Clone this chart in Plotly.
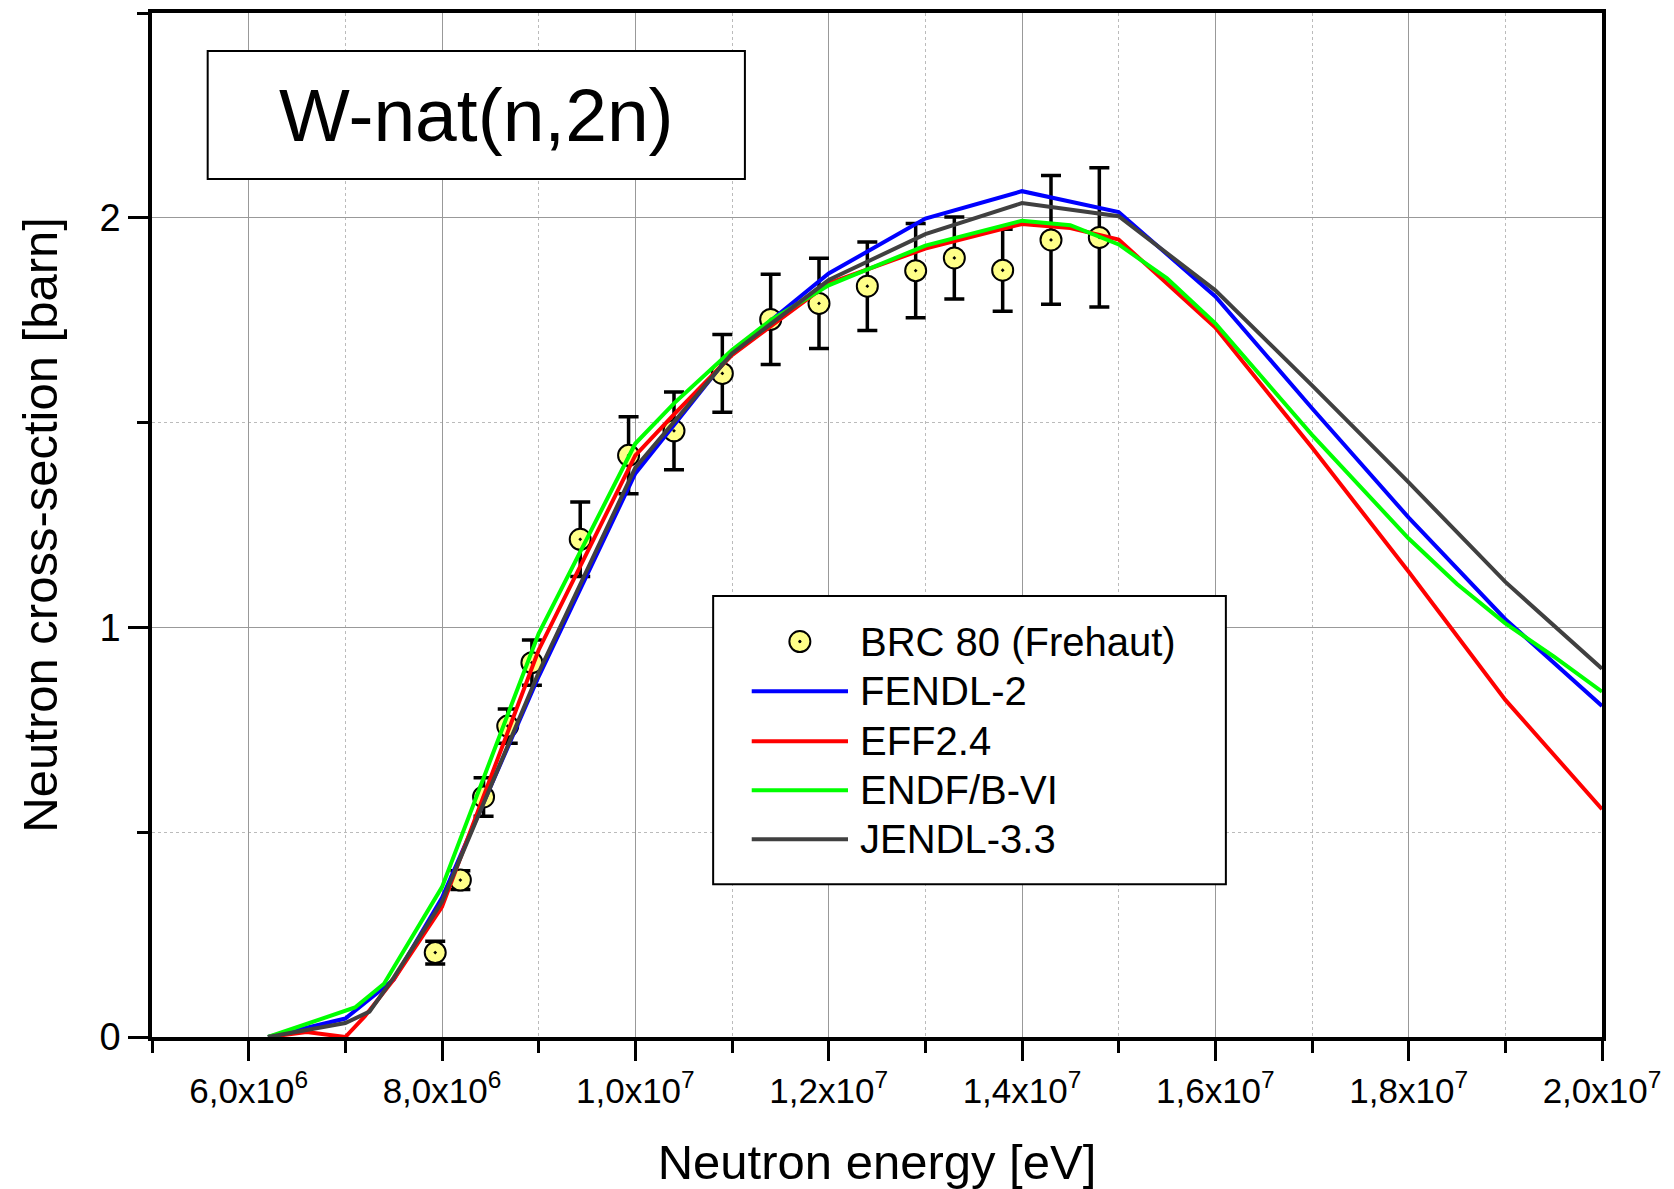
import plotly.graph_objects as go

# ---- measured cross-sections: BRC 80 (Frehaut) ----
brc_energy = [7.93e6, 8.19e6, 8.43e6, 8.68e6, 8.93e6, 9.43e6, 9.93e6, 10.40e6, 10.90e6,
              11.40e6, 11.90e6, 12.40e6, 12.90e6, 13.30e6, 13.80e6, 14.30e6, 14.80e6]
brc_sigma = [0.206, 0.383, 0.586, 0.759, 0.914, 1.215, 1.420, 1.480, 1.620,
             1.752, 1.791, 1.833, 1.871, 1.902, 1.872, 1.946, 1.952]
brc_error = [0.028, 0.023, 0.047, 0.042, 0.055, 0.091, 0.094, 0.095, 0.095,
             0.110, 0.110, 0.108, 0.115, 0.100, 0.100, 0.157, 0.170]

# ---- evaluated data libraries ----
fendl_energy = [6.2e6, 7.0e6, 7.5e6, 8.0e6, 9.0e6, 10.0e6, 11.0e6, 12.0e6, 13.0e6,
                14.0e6, 15.0e6, 16.0e6, 17.0e6, 18.0e6, 19.0e6, 20.0e6]
fendl_sigma = [0.0, 0.045, 0.14, 0.34, 0.88, 1.376, 1.672, 1.864, 1.998,
               2.065, 2.014, 1.808, 1.535, 1.268, 1.020, 0.808]

eff_energy = [6.2e6, 6.6e6, 7.0e6, 7.2e6, 7.5e6, 8.0e6, 9.0e6, 10.0e6, 10.4e6, 11.0e6,
              12.0e6, 13.0e6, 14.0e6, 14.5e6, 15.0e6, 16.0e6, 17.0e6, 18.0e6, 19.0e6, 20.0e6]
eff_sigma = [0.0, 0.012, 0.0, 0.05, 0.14, 0.318, 0.945, 1.42, 1.52, 1.665,
             1.84, 1.925, 1.985, 1.975, 1.947, 1.732, 1.439, 1.136, 0.823, 0.556]

endf_energy = [6.2e6, 7.1e6, 7.4e6, 8.0e6, 9.0e6, 10.0e6, 10.4e6, 11.0e6, 11.4e6, 12.0e6,
               13.0e6, 14.0e6, 14.5e6, 15.0e6, 15.5e6, 16.0e6, 17.0e6, 17.5e6, 18.0e6,
               18.5e6, 19.0e6, 19.5e6, 20.0e6]
endf_sigma = [0.0, 0.072, 0.13, 0.366, 0.985, 1.449, 1.547, 1.677, 1.75, 1.835,
              1.932, 1.993, 1.982, 1.935, 1.852, 1.742, 1.47, 1.343, 1.217,
              1.106, 1.01, 0.929, 0.843]

jendl_energy = [6.2e6, 7.0e6, 7.25e6, 7.5e6, 8.0e6, 9.0e6, 10.0e6, 11.0e6, 12.0e6, 13.0e6,
                14.0e6, 15.0e6, 16.0e6, 17.0e6, 18.0e6, 19.0e6, 20.0e6]
jendl_sigma = [0.0, 0.034, 0.062, 0.145, 0.33, 0.89, 1.39, 1.669, 1.848, 1.96,
               2.036, 2.004, 1.823, 1.591, 1.354, 1.111, 0.899]

x_tickvals = [6e6, 8e6, 10e6, 12e6, 14e6, 16e6, 18e6, 20e6]
x_ticktext = ["6,0x10<sup>6</sup>", "8,0x10<sup>6</sup>", "1,0x10<sup>7</sup>",
              "1,2x10<sup>7</sup>", "1,4x10<sup>7</sup>", "1,6x10<sup>7</sup>",
              "1,8x10<sup>7</sup>", "2,0x10<sup>7</sup>"]

SANS = "Liberation Sans, Arial, sans-serif"

MARKER_FILL = "#FFFF88"
libraries = [
    ("FENDL-2", fendl_energy, fendl_sigma, "#0000FF"),
    ("EFF2.4", eff_energy, eff_sigma, "#FF0000"),
    ("ENDF/B-VI", endf_energy, endf_sigma, "#00FF00"),
    ("JENDL-3.3", jendl_energy, jendl_sigma, "#404040"),
]

fig = go.Figure()

fig.add_trace(go.Scatter(
    x=brc_energy, y=brc_sigma, mode="markers", name="BRC 80 (Frehaut)",
    marker=dict(symbol="circle-dot", size=21, color=MARKER_FILL,
                line=dict(color="black", width=2)),
    error_y=dict(type="data", array=brc_error, visible=True,
                 color="black", thickness=3.5, width=10),
    showlegend=False,
))

for name, xs, ys, col in libraries:
    fig.add_trace(go.Scatter(x=xs, y=ys, mode="lines", name=name,
                             line=dict(color=col, width=4), showlegend=False))

axis_common = dict(
    showline=True, linecolor="black", linewidth=3.5, mirror=True,
    ticks="outside", tickcolor="black", tickwidth=3,
    showgrid=True, gridcolor="#999999", gridwidth=1, zeroline=False,
)

fig.update_xaxes(
    **axis_common, range=[5e6, 20e6],
    tickmode="array", tickvals=x_tickvals, ticktext=x_ticktext, ticklen=20,
    tickfont=dict(family=SANS, size=35, color="black"),
    minor=dict(tickmode="linear", tick0=5e6, dtick=1e6, ticklen=12, tickwidth=3,
               tickcolor="black", ticks="outside", showgrid=True,
               gridcolor="#BBBBBB", griddash="dot", gridwidth=1),
    title=dict(text="Neutron energy [eV]", standoff=40,
               font=dict(family=SANS, size=49, color="black")),
    automargin=False,
)
fig.update_yaxes(
    **axis_common, range=[0, 2.5],
    tickmode="linear", tick0=0, dtick=1, ticklen=20,
    tickfont=dict(family=SANS, size=38, color="black"),
    minor=dict(tickmode="linear", tick0=0.5, dtick=1, ticklen=11, tickwidth=3,
               tickcolor="black", ticks="outside", showgrid=True,
               gridcolor="#BBBBBB", griddash="dot", gridwidth=1),
)

# ---- legend drawn in paper coordinates ----
leg_x0, leg_x1 = 0.387, 0.7406
leg_y1, leg_y0 = 0.4307, 0.1491
fig.add_shape(type="rect", xref="paper", yref="paper", x0=leg_x0, x1=leg_x1,
              y0=leg_y0, y1=leg_y1, line=dict(color="black", width=2),
              fillcolor="white", layer="above")

row_y = [0.3862, 0.3376, 0.2888, 0.2409, 0.1931]
sample_x0, sample_x1, label_x = 0.4136, 0.4800, 0.4872
sample_xc = (sample_x0 + sample_x1) / 2
px_w, px_h = 1450.0, 1024.0  # plot area size in pixels

# marker sample for the measured data
r = 10.5
fig.add_shape(type="circle", xref="paper", yref="paper",
              x0=sample_xc - r / px_w, x1=sample_xc + r / px_w,
              y0=row_y[0] - r / px_h, y1=row_y[0] + r / px_h,
              line=dict(color="black", width=2), fillcolor=MARKER_FILL, layer="above")
fig.add_shape(type="circle", xref="paper", yref="paper",
              x0=sample_xc - 1.2 / px_w, x1=sample_xc + 1.2 / px_w,
              y0=row_y[0] - 1.2 / px_h, y1=row_y[0] + 1.2 / px_h,
              line=dict(color="black", width=1), fillcolor="black", layer="above")

labels = ["BRC 80 (Frehaut)"] + [lib[0] for lib in libraries]
for i, (lab, yy) in enumerate(zip(labels, row_y)):
    if i > 0:
        fig.add_shape(type="line", xref="paper", yref="paper",
                      x0=sample_x0, x1=sample_x1, y0=yy, y1=yy,
                      line=dict(color=libraries[i - 1][3], width=4), layer="above")
    fig.add_annotation(text=lab, xref="paper", yref="paper", x=label_x, y=yy,
                       xanchor="left", yanchor="middle", showarrow=False,
                       font=dict(family=SANS, size=40, color="black"))

# ---- reaction label box ----
fig.add_shape(type="rect", xref="paper", yref="paper", x0=0.0384, x1=0.4089,
              y0=0.8378, y1=0.9628, line=dict(color="black", width=2),
              fillcolor="white", layer="above")
fig.add_annotation(text="W-nat(n,2n)", xref="paper", yref="paper",
                   x=(0.0384 + 0.4089) / 2, y=(0.8378 + 0.9628) / 2,
                   xanchor="center", yanchor="middle", showarrow=False,
                   font=dict(family=SANS, size=75, color="black"))

# ---- y axis title ----
fig.add_annotation(text="Neutron cross-section [barn]", xref="paper", yref="paper",
                   x=-0.0775, y=0.5, xanchor="center", yanchor="middle", textangle=-90,
                   showarrow=False, font=dict(family=SANS, size=49, color="black"))

fig.update_layout(
    width=1674, height=1189,
    margin=dict(l=152, r=72, t=13, b=152, autoexpand=False),
    paper_bgcolor="white", plot_bgcolor="white",
    showlegend=False,
)

fig.write_html("out.html")
